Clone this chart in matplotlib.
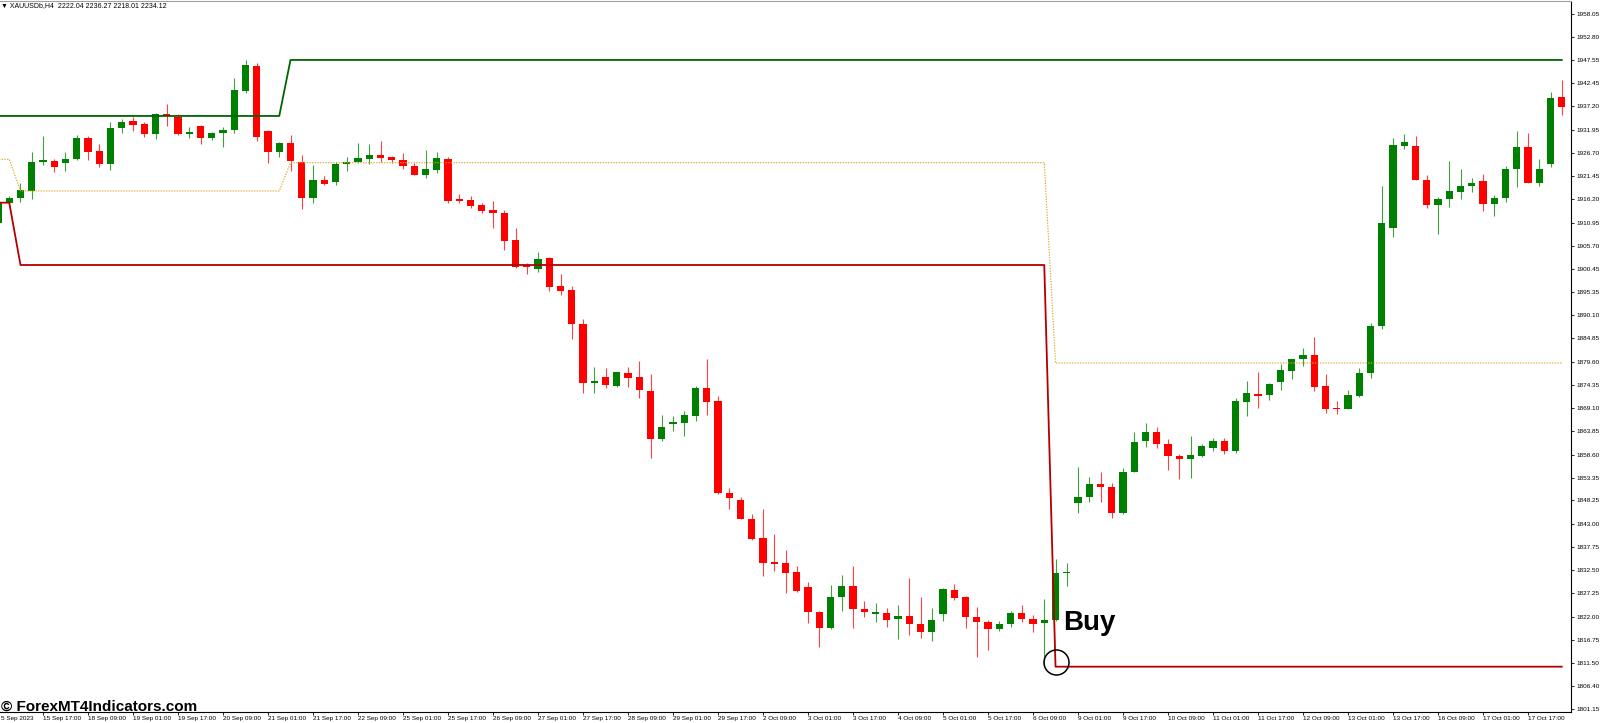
# XAUUSD H4 candles with channel lines and a "Buy" mark, MT4 style
import matplotlib
matplotlib.use("Agg")
import matplotlib.pyplot as plt
import numpy as np

plt.rcParams["font.family"] = ["Liberation Sans", "DejaVu Sans"]

# ------------------------------------------------------------------------------
# Candle data (one entry per H4 bar)
opens = [
  1910.87, 1915.32, 1916.45, 1918.10, 1924.71, 1924.87, 1924.35, 1925.25, 1929.99, 1927.12,
  1924.19, 1932.25, 1933.90, 1933.22, 1931.03, 1935.41, 1934.87, 1931.03, 1932.84, 1929.99,
  1931.26, 1931.87, 1940.67, 1946.38, 1931.64, 1926.83, 1929.00, 1924.71, 1916.58, 1920.58,
  1920.06, 1924.12, 1924.57, 1925.39, 1926.16, 1925.70, 1925.02, 1923.74, 1921.78, 1922.90,
  1925.32, 1916.29, 1916.06, 1914.93, 1913.81, 1913.06, 1907.03, 1901.39, 1900.49, 1902.90,
  1896.72, 1895.75, 1888.07, 1874.82, 1876.04, 1874.15, 1877.08, 1876.04, 1872.95, 1862.05,
  1865.57, 1865.79, 1867.37, 1873.69, 1870.69, 1849.99, 1848.35, 1843.99, 1839.70, 1834.28,
  1834.05, 1832.02, 1828.77, 1823.00, 1819.38, 1826.52, 1829.00, 1823.67, 1822.68, 1822.77,
  1821.41, 1822.15, 1820.29, 1818.48, 1822.54, 1828.03, 1826.38, 1822.00, 1820.74, 1819.16,
  1820.29, 1822.77, 1821.41, 1820.52, 1821.26, 1831.80, 1847.60, 1848.95, 1851.89, 1851.21,
  1845.34, 1854.60, 1861.66, 1863.76, 1860.99, 1858.35, 1857.53, 1858.35, 1860.15, 1861.66,
  1859.47, 1870.53, 1872.27, 1872.05, 1875.05, 1877.53, 1880.10, 1881.08, 1874.08, 1869.04,
  1868.89, 1871.89, 1877.08, 1887.69, 1909.81, 1928.32, 1928.25, 1920.58, 1914.93, 1916.29,
  1917.94, 1919.29, 1920.35, 1915.16, 1916.58, 1923.06, 1927.96, 1919.97, 1924.12, 1939.38,
]
highs = [
  1916.06, 1916.97, 1919.83, 1926.97, 1930.58, 1925.32, 1926.83, 1930.74, 1930.51, 1928.70,
  1933.60, 1934.35, 1934.73, 1933.60, 1935.63, 1937.67, 1935.48, 1932.61, 1933.00, 1931.48,
  1932.47, 1943.67, 1947.67, 1946.92, 1931.87, 1929.22, 1930.74, 1926.22, 1923.96, 1921.48,
  1924.71, 1925.70, 1928.86, 1928.64, 1929.38, 1925.99, 1926.61, 1924.35, 1927.35, 1926.97,
  1925.70, 1917.35, 1916.97, 1915.46, 1915.84, 1913.81, 1909.67, 1901.77, 1904.39, 1903.13,
  1899.29, 1896.65, 1889.13, 1878.44, 1878.08, 1877.31, 1878.44, 1879.72, 1876.72, 1867.54,
  1867.31, 1868.43, 1874.15, 1880.10, 1871.89, 1851.12, 1849.02, 1845.25, 1846.31, 1840.67,
  1837.06, 1833.51, 1829.77, 1823.36, 1829.16, 1831.42, 1833.51, 1825.55, 1825.03, 1823.90,
  1824.64, 1830.67, 1826.52, 1823.90, 1828.41, 1829.32, 1826.74, 1824.26, 1821.26, 1821.03,
  1823.36, 1824.64, 1822.38, 1826.00, 1834.96, 1834.05, 1855.73, 1853.47, 1854.60, 1852.11,
  1855.50, 1863.63, 1865.66, 1864.76, 1862.12, 1858.66, 1862.86, 1860.92, 1862.27, 1862.27,
  1871.30, 1875.21, 1877.31, 1874.69, 1878.98, 1880.10, 1882.72, 1885.07, 1876.79, 1870.76,
  1873.18, 1878.08, 1888.23, 1919.29, 1930.13, 1930.96, 1930.51, 1921.71, 1916.67, 1924.87,
  1923.06, 1920.96, 1921.87, 1917.19, 1923.81, 1931.71, 1931.12, 1925.32, 1940.37, 1943.15,
]
lows = [
  1910.19, 1915.16, 1915.68, 1916.22, 1923.96, 1922.45, 1922.61, 1925.09, 1925.09, 1923.58,
  1922.83, 1931.12, 1931.71, 1930.35, 1929.83, 1932.84, 1930.74, 1929.99, 1928.64, 1929.61,
  1927.96, 1931.12, 1940.29, 1929.38, 1924.35, 1925.84, 1922.61, 1914.03, 1915.32, 1919.45,
  1919.45, 1922.61, 1924.35, 1924.19, 1924.57, 1924.35, 1922.99, 1921.71, 1920.96, 1922.23,
  1915.32, 1915.32, 1914.19, 1913.06, 1909.81, 1904.78, 1900.65, 1899.29, 1899.88, 1895.52,
  1894.62, 1884.62, 1872.56, 1872.56, 1873.56, 1873.78, 1873.78, 1871.44, 1857.76, 1861.73,
  1863.92, 1862.86, 1866.18, 1867.53, 1849.70, 1846.25, 1843.99, 1839.31, 1831.26, 1832.38,
  1827.28, 1827.64, 1820.51, 1815.23, 1819.22, 1823.29, 1819.38, 1822.00, 1820.74, 1819.75,
  1816.90, 1817.87, 1817.12, 1816.58, 1821.10, 1825.77, 1819.52, 1812.97, 1814.48, 1818.78,
  1819.75, 1820.74, 1818.62, 1810.72, 1821.03, 1829.00, 1845.48, 1847.96, 1847.96, 1844.21,
  1845.18, 1854.60, 1860.38, 1860.02, 1855.12, 1853.09, 1853.38, 1858.12, 1859.47, 1858.66,
  1858.89, 1867.37, 1869.04, 1870.92, 1873.18, 1875.59, 1878.59, 1872.95, 1868.05, 1867.76,
  1868.89, 1871.66, 1875.82, 1886.88, 1907.78, 1927.58, 1920.58, 1914.33, 1908.32, 1914.55,
  1916.22, 1917.94, 1913.49, 1912.45, 1915.68, 1919.07, 1919.83, 1919.29, 1923.45, 1935.25,
]
closes = [
  1915.39, 1916.58, 1918.32, 1924.71, 1925.02, 1923.58, 1925.32, 1929.99, 1926.97, 1924.19,
  1932.25, 1933.74, 1933.06, 1930.96, 1935.41, 1934.96, 1931.03, 1931.41, 1929.99, 1931.26,
  1931.87, 1940.89, 1946.54, 1930.22, 1926.83, 1929.00, 1924.87, 1916.58, 1920.58, 1919.61,
  1924.12, 1924.71, 1925.48, 1926.16, 1925.61, 1925.09, 1923.74, 1921.78, 1922.99, 1925.48,
  1915.91, 1915.84, 1914.78, 1913.58, 1913.06, 1906.88, 1901.01, 1900.87, 1902.68, 1896.36,
  1895.52, 1888.07, 1874.82, 1874.98, 1874.24, 1877.17, 1875.95, 1873.11, 1862.05, 1864.76,
  1865.79, 1867.53, 1873.69, 1870.53, 1849.99, 1848.73, 1843.99, 1839.54, 1834.19, 1833.90,
  1831.93, 1827.84, 1823.00, 1819.52, 1826.52, 1829.00, 1823.67, 1823.00, 1822.90, 1821.26,
  1822.15, 1820.29, 1818.48, 1821.26, 1828.19, 1826.29, 1822.00, 1820.74, 1819.16, 1820.36,
  1822.77, 1821.41, 1820.36, 1821.26, 1831.93, 1831.93, 1848.95, 1851.89, 1851.21, 1845.34,
  1854.60, 1861.37, 1863.76, 1860.99, 1858.35, 1857.53, 1858.50, 1860.53, 1861.66, 1859.47,
  1870.69, 1872.43, 1871.89, 1874.46, 1877.69, 1880.10, 1881.08, 1873.92, 1868.89, 1868.82,
  1872.05, 1877.08, 1887.69, 1910.80, 1928.48, 1929.09, 1920.58, 1914.93, 1916.29, 1918.10,
  1919.29, 1919.97, 1915.16, 1916.45, 1923.06, 1927.96, 1919.83, 1923.06, 1939.16, 1937.12,
]

# Indicator lines as (bar, price) vertices
upper_bars = [0, 25, 26, 139]
upper_prices = [1935.03, 1935.03, 1947.67, 1947.67]
lower_bars = [0, 1, 2, 93, 94, 139]
lower_prices = [1915.46, 1915.46, 1901.39, 1901.39, 1810.72, 1810.72]
mid_bars = [0, 1, 2, 25, 26, 93, 94, 139]
mid_prices = [1925.25, 1925.25, 1918.10, 1918.10, 1924.48, 1924.48, 1879.27, 1879.27]

buy_bar = 94
buy_price = 1811.71

price_ticks = [
  1958.05, 1952.80, 1947.55, 1942.45, 1937.20, 1931.95, 1926.70, 1921.45, 1916.20, 1910.95,
  1905.70, 1900.45, 1895.35, 1890.10, 1884.85, 1879.60, 1874.35, 1869.10, 1863.85, 1858.60,
  1853.35, 1848.25, 1843.00, 1837.75, 1832.50, 1827.25, 1822.00, 1816.75, 1811.50, 1806.40,
  1801.15,
]
time_labels = [
  "15 Sep 17:00", "18 Sep 09:00", "19 Sep 01:00", "19 Sep 17:00", "20 Sep 09:00",
  "21 Sep 01:00", "21 Sep 17:00", "22 Sep 09:00", "25 Sep 01:00", "25 Sep 17:00",
  "26 Sep 09:00", "27 Sep 01:00", "27 Sep 17:00", "28 Sep 09:00", "29 Sep 01:00",
  "29 Sep 17:00", "2 Oct 09:00", "3 Oct 01:00", "3 Oct 17:00", "4 Oct 09:00",
  "5 Oct 01:00", "5 Oct 17:00", "6 Oct 09:00", "9 Oct 01:00", "9 Oct 17:00",
  "10 Oct 09:00", "11 Oct 01:00", "11 Oct 17:00", "12 Oct 09:00", "13 Oct 01:00",
  "13 Oct 17:00", "16 Oct 09:00", "17 Oct 01:00", "17 Oct 17:00",
]
time_label_bars = list(range(4, 140, 4))

# ------------------------------------------------------------------------------

fig = plt.figure(figsize=(16, 7.23), dpi=100)
ax = fig.add_axes([0, 11/723, 1571/1600, 711/723])

o = np.array(opens)
c = np.array(closes)
x = np.arange(len(o))
up = c >= o
cols = np.where(up, "#008000", "#ff0000")

ax.vlines(x, lows, highs, colors=cols, linewidth=0.8, alpha=0.75, zorder=3)
bottoms = np.minimum(o, c)
heights = np.maximum(np.abs(c - o), 0.3)
ax.bar(x, heights, bottom=bottoms, width=0.65, color=cols, linewidth=0, zorder=4)

ax.plot(upper_bars, upper_prices, color="#006400", lw=1.3, zorder=5)
ax.plot(lower_bars, lower_prices, color="#b40000", lw=1.3, zorder=5)
ax.plot(mid_bars, mid_prices, color="#daa520", lw=0.8, dashes=(1.2, 1.2), zorder=5)

# Buy signal
ax.plot([buy_bar], [buy_price], marker="o", ms=18, mfc="none", mec="black", mew=1.1, zorder=6)
ax.annotate("Buy", xy=(buy_bar, buy_price), xytext=(5.5, 23), textcoords="offset points",
            fontsize=20, fontweight="bold", color="black", ha="left", va="baseline",
            family="Liberation Sans", zorder=7)

ax.set_xlim(0.178, 139.82)
ax.set_ylim(1800.49, 1960.98)

# Axes in MT4 look
ax.spines["left"].set_visible(False)
ax.spines["top"].set_color("#a0a0a0")
ax.spines["right"].set_color("black")
ax.spines["bottom"].set_color("black")
for s in ["top", "right", "bottom"]:
  ax.spines[s].set_linewidth(0.8)

ax.yaxis.tick_right()
ax.set_yticks(price_ticks)
ax.set_yticklabels([f"{v:.2f}" for v in price_ticks])
ax.tick_params(axis="y", direction="out", length=2.2, width=0.6, labelsize=4.6, pad=1.5,
               colors="black")

ax.set_xticks(time_label_bars)
ax.set_xticklabels(time_labels)
ax.tick_params(axis="x", direction="out", length=2.2, width=0.6, labelsize=4.6, pad=0.8,
               colors="black")
for lbl in ax.get_xticklabels():
  lbl.set_horizontalalignment("left")

ax.annotate("5 Sep 2023", xy=(0, 0), xycoords="axes fraction", xytext=(1, -3),
            textcoords="offset points", fontsize=4.6, ha="left", va="top")

# Header and watermark
fig.text(1/1600, 1 - 6/723, "▼ XAUUSDb,H4  2222.04 2236.27 2218.01 2234.12",
         fontsize=5, va="center", ha="left", color="black")
fig.text(1/1600, 12/723, "© ForexMT4Indicators.com", fontsize=11, fontweight="bold",
         va="baseline", ha="left", color="black")

fig.savefig("out.png", dpi=100)
